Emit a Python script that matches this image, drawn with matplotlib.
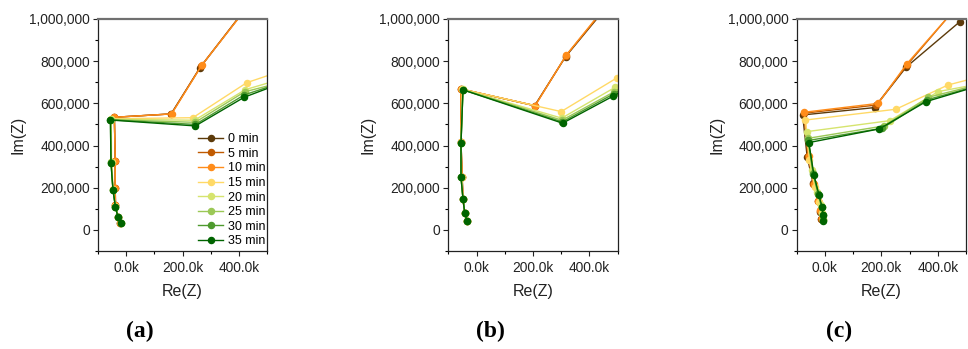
import matplotlib
matplotlib.use("Agg")
import matplotlib.pyplot as plt
from matplotlib.ticker import MultipleLocator, FuncFormatter

plt.rcParams['font.family'] = ['Liberation Sans', 'DejaVu Sans']

labels = ["0 min", "5 min", "10 min", "15 min", "20 min", "25 min", "30 min", "35 min"]
colors = ["#5C3A0A", "#C05A00", "#FF8C1A", "#FFD966", "#D6E46E", "#9BC856", "#4E9A2E", "#006400"]

# Panel (a): Re(Z) and Im(Z), one list per time
re_a = [
    [-21, -30, -38, -39, -39, -42, 159, 262, 480],
    [-21, -30, -38, -39, -39, -42, 160, 264, 482],
    [-21, -30, -38, -39, -39, -42, 161, 268, 484],
    [-20, -30, -38, -46, -52, -53, 236, 427, 600],
    [-20, -29, -38, -47, -53, -54, 242, 422, 600],
    [-19, -29, -38, -47, -53, -55, 244, 420, 600],
    [-19, -29, -38, -47, -54, -56, 245, 418, 600],
    [-19, -29, -38, -47, -54, -56, 245, 418, 600],
]
im_a = [
    [32, 63, 118, 197, 329, 534, 550, 770, 1148],
    [32, 63, 118, 197, 329, 534, 550, 775, 1150],
    [32, 63, 118, 197, 329, 534, 550, 781, 1150],
    [33, 62, 112, 192, 322, 527, 532, 698, 776],
    [33, 61, 110, 191, 320, 525, 520, 665, 735],
    [32, 61, 109, 190, 320, 523, 510, 655, 716],
    [32, 60, 108, 190, 319, 522, 500, 640, 720],
    [32, 60, 107, 190, 319, 521, 493, 629, 721],
]

# Panel (b)
re_b = [
    [-34, -42, -48, -51, -55, -55, 206, 316, 500],
    [-34, -42, -48, -51, -55, -55, 207, 317, 500],
    [-34, -42, -48, -51, -55, -55, 208, 318, 500],
    [-34, -42, -48, -53, -55, -50, 300, 499, 600],
    [-34, -42, -48, -54, -55, -49, 302, 491, 600],
    [-34, -42, -48, -55, -55, -48, 303, 488, 600],
    [-34, -42, -48, -55, -55, -48, 304, 486, 600],
    [-34, -42, -48, -55, -55, -48, 305, 485, 600],
]
im_b = [
    [44, 82, 147, 253, 419, 668, 589, 822, 1120],
    [44, 82, 147, 253, 419, 668, 589, 826, 1125],
    [44, 82, 147, 253, 419, 668, 589, 829, 1130],
    [44, 82, 147, 252, 415, 667, 561, 722, 800],
    [43, 82, 147, 251, 413, 666, 530, 676, 760],
    [43, 82, 147, 250, 412, 665, 520, 655, 740],
    [43, 82, 147, 250, 411, 664, 512, 645, 730],
    [43, 82, 147, 250, 411, 664, 506, 635, 720],
]

# Panel (c)
re_c = [
    [-14, -18, -26, -42, -63, -79, 176, 288, 478, 560],
    [-13, -17, -25, -41, -60, -75, 182, 290, 520],
    [-12, -16, -24, -40, -58, -73, 189, 290, 520],
    [-8, -12, -20, -36, -55, -69, 251, 436, 600],
    [-8, -10, -15, -28, -46, -64, 230, 402, 600],
    [-7, -8, -12, -24, -42, -61, 209, 367, 600],
    [-7, -8, -11, -23, -41, -59, 203, 362, 600],
    [-6, -6, -10, -21, -39, -57, 193, 358, 600],
]
im_c = [
    [50, 87, 137, 221, 348, 545, 580, 772, 987, 1100],
    [54, 91, 137, 220, 350, 553, 592, 780, 1140],
    [57, 95, 137, 218, 352, 558, 600, 787, 1137],
    [50, 80, 130, 205, 330, 521, 572, 687, 744],
    [47, 78, 118, 180, 285, 466, 518, 656, 705],
    [45, 72, 110, 170, 270, 434, 493, 629, 708],
    [45, 72, 108, 168, 265, 424, 482, 617, 705],
    [44, 71, 107, 166, 261, 414, 479, 608, 705],
]

panel_tags = ["a", "b", "c"]
panel_re = [re_a, re_b, re_c]
panel_im = [im_a, im_b, im_c]

W, H = 968, 349
fig = plt.figure(figsize=(W / 100, H / 100), dpi=100)

lefts = [98, 448.3, 796.7]
ax_w, ax_top, ax_bot = 169.3, 19, 251

for p in range(3):
    ax = fig.add_axes([lefts[p] / W, (H - ax_bot) / H, ax_w / W, (ax_bot - ax_top) / H])
    for i in range(8):
        xs = [v * 1000 for v in panel_re[p][i]]
        ys = [v * 1000 for v in panel_im[p][i]]
        ax.plot(xs, ys, color=colors[i], lw=1.0, marker='o', ms=4.4,
                mfc=colors[i], mec=colors[i], label=labels[i], clip_on=True)
    ax.set_xlim(-100000, 500000)
    ax.set_ylim(-100000, 1000000)
    ax.xaxis.set_major_locator(MultipleLocator(200000))
    ax.xaxis.set_minor_locator(MultipleLocator(100000))
    ax.yaxis.set_major_locator(MultipleLocator(200000))
    ax.yaxis.set_minor_locator(MultipleLocator(100000))
    ax.xaxis.set_major_formatter(FuncFormatter(lambda v, pos: f"{v/1000:.1f}k"))
    ax.yaxis.set_major_formatter(FuncFormatter(lambda v, pos: f"{v:,.0f}"))
    ax.tick_params(axis='both', which='major', direction='out', length=3.5, width=0.8,
                   labelsize=9.9, colors='#222222', pad=2.5)
    ax.tick_params(axis='both', which='minor', direction='out', length=2, width=0.8)
    ax.tick_params(axis='x', which='major', pad=4)
    for s in ['left', 'bottom', 'right']:
        ax.spines[s].set_color('#222222')
        ax.spines[s].set_linewidth(0.9)
    ax.spines['top'].set_color('#707070')
    ax.spines['top'].set_linewidth(1.6)
    ax.set_xlabel("Re(Z)", fontsize=11.5, color='#222222', labelpad=6)
    ax.set_ylabel("Im(Z)", fontsize=11.5, color='#222222', labelpad=2.5)
    if p == 0:
        ax.legend(loc='lower right', bbox_to_anchor=(1.0, 0.01), frameon=False,
                  fontsize=9, handlelength=2.0, handletextpad=0.4,
                  labelspacing=0.21, borderaxespad=0.0, borderpad=0.1)
    cx = (lefts[p] + 42) / W
    fig.text(cx, (H - 331) / H, f"({panel_tags[p]})", fontsize=17, fontweight='bold',
             family=['Liberation Serif', 'DejaVu Serif'], ha='center', va='center')

fig.savefig("out.png", dpi=100)
